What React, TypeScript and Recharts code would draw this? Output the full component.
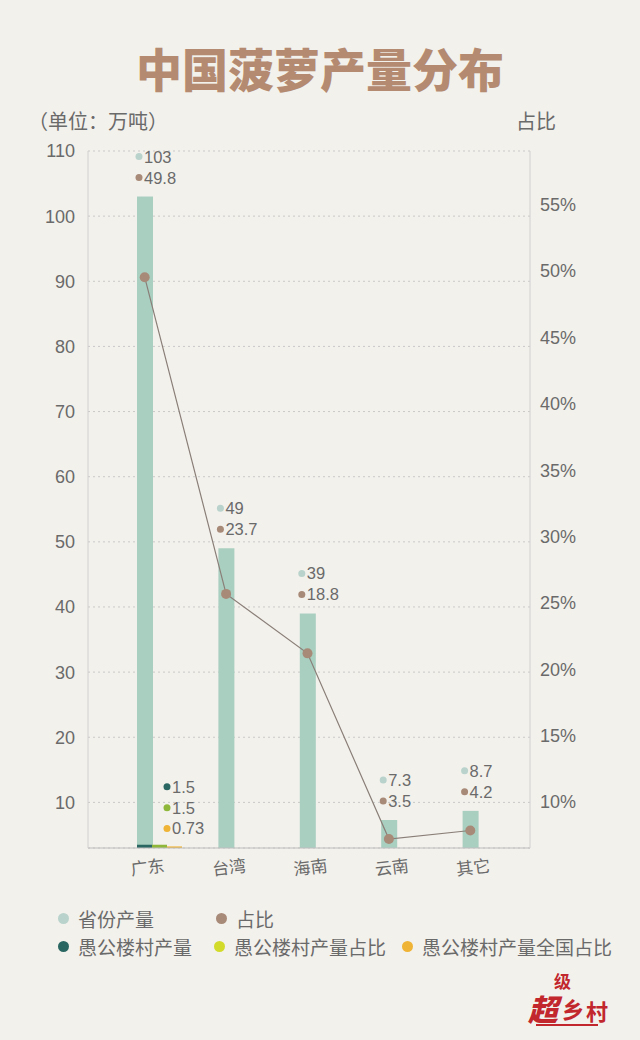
import React from "react";
import {
  ComposedChart, Bar, Line, XAxis, YAxis, CartesianGrid, LabelList,
} from "recharts";

const categories = ["广东", "台湾", "海南", "云南", "其它"];
const provinceOutput = [103, 49, 39, 7.3, 8.7];
const provinceShare = [49.8, 23.7, 18.8, 3.5, 4.2];
const villageOutput = [1.5, null, null, null, null];
const villageShare = [1.5, null, null, null, null];
const villageNational = [0.73, null, null, null, null];
const leftTicks = [10, 20, 30, 40, 50, 60, 70, 80, 90, 100, 110];
const rightTicks = [10, 15, 20, 25, 30, 35, 40, 45, 50, 55];

const data = categories.map((name, i) => ({
  name,
  output: provinceOutput[i],
  share: provinceShare[i],
  vOutput: villageOutput[i],
  vShare: villageShare[i],
  vNational: villageNational[i],
}));

const FONT = "'Liberation Sans', 'Noto Sans CJK SC', sans-serif";
const TEXT = "#6a6a6a";
const C = {
  bar: "#a9cfc1",
  barDot: "#b9d3cc",
  share: "#a88a78",
  line: "#8a7f78",
  vOutput: "#2b6762",
  vShare: "#8fb83a",
  vShareLegend: "#d2db2a",
  vNational: "#efb436",
};

const dotLabel = (color: string, dy: number, dx: number) => (props: any) => {
  const { x, y, value } = props;
  if (value == null) return null;
  return (
    <g>
      <circle cx={x + dx} cy={y + dy} r={3.5} fill={color} />
      <text x={x + dx + 5} y={y + dy} dominantBaseline="central" fontSize={16.5} fill={TEXT} fontFamily={FONT}>
        {value}
      </text>
    </g>
  );
};

const CategoryTick = ({ x, y, payload }: any) => (
  <text
    x={x + 3} y={y + 12} textAnchor="middle" dominantBaseline="central"
    fontSize={17} fill={TEXT} fontFamily={FONT}
    transform={`rotate(-7 ${x + 3} ${y + 12})`}
  >
    {payload.value}
  </text>
);

const legendRows = [
  [
    { label: "省份产量", color: C.barDot, x: 58 },
    { label: "占比", color: C.share, x: 216 },
  ],
  [
    { label: "愚公楼村产量", color: C.vOutput, x: 58 },
    { label: "愚公楼村产量占比", color: C.vShareLegend, x: 214 },
    { label: "愚公楼村产量全国占比", color: C.vNational, x: 402 },
  ],
];

export default function App() {
  return (
    <div style={{ position: "absolute", left: 0, top: 0, width: 640, height: 1040, background: "#f3f1ec", overflow: "hidden", fontFamily: FONT }}>
      <div style={{ position: "absolute", left: 0, top: 34, width: 640, textAlign: "center", fontSize: 46, fontWeight: 900, color: "#b48b71", fontFamily: "'Noto Sans CJK SC', sans-serif" }}>
        中国菠萝产量分布
      </div>
      <div style={{ position: "absolute", left: 28, top: 106, fontSize: 20, color: TEXT }}>（单位：万吨）</div>
      <div style={{ position: "absolute", left: 516, top: 106, fontSize: 20, color: TEXT }}>占比</div>

      <div style={{ position: "absolute", left: 0, top: 0 }}>
        <ComposedChart width={640} height={900} data={data} barGap={0}
          margin={{ top: 151, right: 0, bottom: 22, left: 0 }}>
          <CartesianGrid xAxisId="main" yAxisId="left" vertical={false} stroke="#c9c9c9" strokeDasharray="2 3" />
          <XAxis xAxisId="main" dataKey="name" height={30} padding={{ left: 16, right: 19 }}
            axisLine={{ stroke: "#bdbdbd" }} tickLine={false} tick={<CategoryTick />} interval={0} />
          <XAxis xAxisId="small" dataKey="name" hide padding={{ left: 16, right: 19 }} />
          <YAxis yAxisId="left" width={88} domain={[3, 110]} ticks={leftTicks} interval={0}
            axisLine={{ stroke: "#d0d0d0" }} tickLine={false} tickSize={10} tickMargin={3}
            tick={{ fontSize: 18, fill: TEXT, fontFamily: FONT }} />
          <YAxis yAxisId="right" orientation="right" width={110} domain={[6.53, 59.05]} ticks={rightTicks}
            interval={0} allowDataOverflow axisLine={{ stroke: "#d0d0d0" }} tickLine={false} tickSize={0} tickMargin={10}
            tickFormatter={(v: number) => `${v}%`} tick={{ fontSize: 18, fill: TEXT, fontFamily: FONT, textAnchor: "start" }} />
          <YAxis yAxisId="line" hide domain={[2.76, 60.2]} />
          <YAxis yAxisId="small" hide domain={[0, 320]} />

          <Bar xAxisId="main" yAxisId="left" dataKey="output" fill={C.bar} barSize={16} isAnimationActive={false}>
            <LabelList dataKey="output" content={dotLabel(C.barDot, -40, 2)} />
            <LabelList dataKey="share" content={dotLabel(C.share, -19, 2)} />
          </Bar>

          <Bar xAxisId="small" yAxisId="small" dataKey="pad1" fill="none" barSize={15} isAnimationActive={false} />
          <Bar xAxisId="small" yAxisId="small" dataKey="pad2" fill="none" barSize={15} isAnimationActive={false} />
          <Bar xAxisId="small" yAxisId="small" dataKey="vOutput" fill={C.vOutput} barSize={15} isAnimationActive={false}>
            <LabelList dataKey="vOutput" content={dotLabel(C.vOutput, -58, 30)} />
          </Bar>
          <Bar xAxisId="small" yAxisId="small" dataKey="vShare" fill={C.vShare} barSize={15} isAnimationActive={false}>
            <LabelList dataKey="vShare" content={dotLabel(C.vShare, -37, 15)} />
          </Bar>
          <Bar xAxisId="small" yAxisId="small" dataKey="vNational" fill={C.vNational} barSize={15} isAnimationActive={false}>
            <LabelList dataKey="vNational" content={dotLabel(C.vNational, -18, 0)} />
          </Bar>

          <Line xAxisId="main" yAxisId="line" dataKey="share" stroke={C.line} strokeWidth={1.2}
            dot={{ r: 5, fill: C.share, stroke: "none" }} activeDot={false} isAnimationActive={false} />
        </ComposedChart>
      </div>

      {legendRows.map((row, ri) => row.map((item) => (
        <div key={item.label} style={{ position: "absolute", left: item.x, top: 905 + ri * 28, display: "flex", alignItems: "center", fontSize: 19, color: TEXT, fontFamily: "'Noto Sans CJK SC', sans-serif", whiteSpace: "nowrap" }}>
          <span style={{ width: 11, height: 11, borderRadius: "50%", background: item.color, marginRight: 9, display: "inline-block" }} />
          {item.label}
        </div>
      )))}

      <div style={{ position: "absolute", left: 528, top: 968, width: 90, height: 66, color: "#c1272d", fontFamily: "'Noto Sans CJK SC', sans-serif" }}>
        <span style={{ position: "absolute", left: 26, top: 0, fontSize: 17, fontWeight: 700 }}>级</span>
        <span style={{ position: "absolute", left: 0, top: 18, fontSize: 30, fontWeight: 900, fontStyle: "italic" }}>超</span>
        <span style={{ position: "absolute", left: 34, top: 24, fontSize: 22, fontWeight: 700 }}>乡</span>
        <span style={{ position: "absolute", left: 58, top: 26, fontSize: 22, fontWeight: 700 }}>村</span>
        <span style={{ position: "absolute", left: 8, top: 56, width: 62, height: 2, background: "#c1272d" }} />
      </div>
    </div>
  );
}
